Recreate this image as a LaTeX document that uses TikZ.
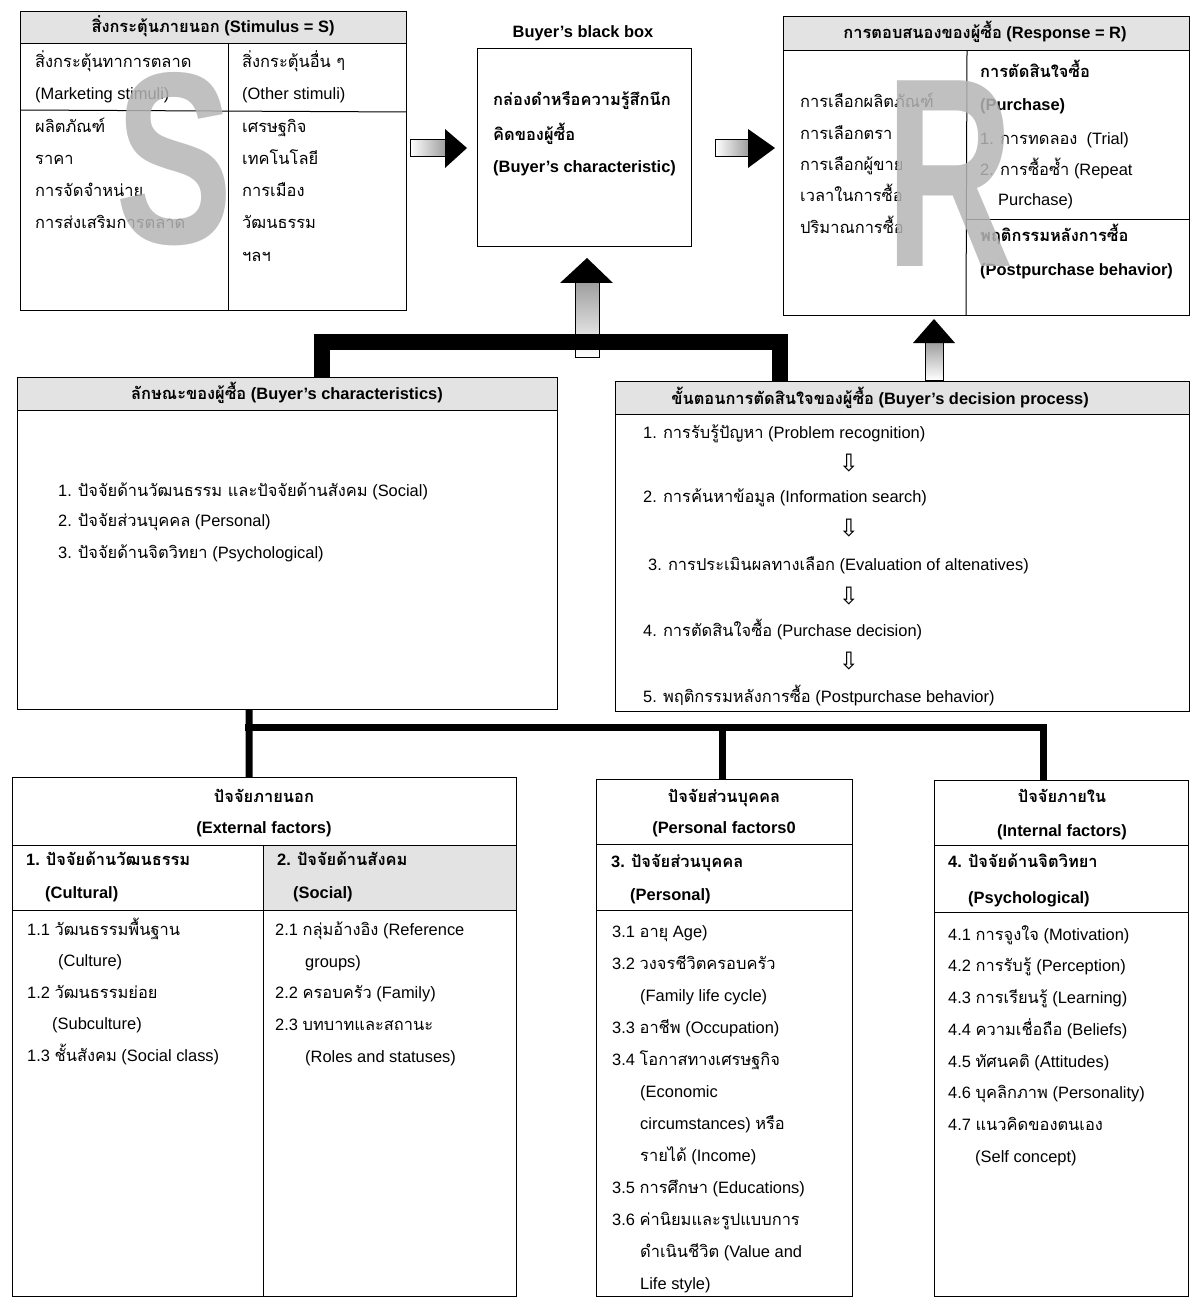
\documentclass[tikz,border=0pt]{standalone}
\usepackage{fontspec}
\setmainfont{Liberation Sans}
\newfontfamily\thaifont[Script=Thai]{Loma}
\newfontfamily\dejavu{DejaVu Sans}
\newcommand\tha[1]{{\thaifont #1}}
\newcommand\fs{\fontsize{16.5}{19}\selectfont}
\tikzset{
  boxd/.style={draw, line width=1bp, inner sep=0pt, outer sep=0pt, anchor=north west},
  hdr/.style={fill=gray!22},
  tl/.style={anchor=base west, inner sep=0pt, font=\fs},
  tlb/.style={anchor=base west, inner sep=0pt, font=\fs\bfseries},
  tcb/.style={anchor=base, inner sep=0pt, font=\fs\bfseries},
  rule/.style={line width=1bp},
  bigbar/.style={line width=16bp, line join=miter},
  smallbar/.style={line width=7bp, line join=miter},
  dn/.style={inner sep=0pt, font=\dejavu\fontsize{24}{24}\selectfont},
  bigletter/.style={anchor=base, inner sep=0pt, text=gray!58, text opacity=0.85},
}
\begin{document}
\begin{tikzpicture}[x=1bp,y=-1bp]
\useasboundingbox[fill=white] (0,0) rectangle (1191,1299);

% ================= S box =================
\fill[hdr] (20,12) rectangle (406,44);
\node[boxd, minimum width=386bp, minimum height=298bp] (sbox) at (20,12) {};
\draw[rule] (20,44) -- (406,44);
\draw[rule] (20,110) -- (406,112);
\draw[rule] (228,44) -- (228,310);
\node[tcb] (sh) at (213,33) {\tha{สิ่งกระตุ้นภายนอก} (Stimulus = S)};
\node[tl] (s1) at (35,68) {\tha{สิ่งกระตุ้นทาการตลาด}};
\node[tl] (s2) at (35,100) {(Marketing stimuli)};
\node[tl] (s3) at (35,133) {\tha{ผลิตภัณฑ์}};
\node[tl] (s4) at (35,165) {\tha{ราคา}};
\node[tl] (s5) at (35,197) {\tha{การจัดจำหน่าย}};
\node[tl] (s6) at (35,229) {\tha{การส่งเสริมการตลาด}};
\node[tl] (o1) at (242,68) {\tha{สิ่งกระตุ้นอื่น ๆ}};
\node[tl] (o2) at (242,100) {(Other stimuli)};
\node[tl] (o3) at (242,133) {\tha{เศรษฐกิจ}};
\node[tl] (o4) at (242,165) {\tha{เทคโนโลยี}};
\node[tl] (o5) at (242,197) {\tha{การเมือง}};
\node[tl] (o6) at (242,229) {\tha{วัฒนธรรม}};
\node[tl] (o7) at (242,262) {\tha{ฯลฯ}};
\node[bigletter, font=\fontsize{246}{246}\selectfont\bfseries, xscale=0.72] (bigS) at (174,244) {S};

% ================= Black box =================
\node[tcb] (bbt) at (583,38) {Buyer’s black box};
\node[boxd, minimum width=214bp, minimum height=197bp] (bb) at (477,49) {};
\node[tlb] (b1) at (493,106) {\tha{กล่องดำหรือความรู้สึกนึก}};
\node[tlb] (b2) at (493,141) {\tha{คิดของผู้ซื้อ}};
\node[tlb] (b3) at (493,173) {(Buyer’s characteristic)};

% ================= R box =================
\fill[hdr] (783,17) rectangle (1189,51);
\node[boxd, minimum width=406bp, minimum height=298bp] (rbox) at (783,17) {};
\draw[rule] (783,51) -- (1189,51);
\draw[rule] (967,51) -- (966,315);
\draw[rule] (966,220) -- (1189,220);
\node[tcb] (rh) at (985,39) {\tha{การตอบสนองของผู้ซื้อ} (Response = R)};
\node[tl] (r1) at (800,108) {\tha{การเลือกผลิตภัณฑ์}};
\node[tl] (r2) at (800,140) {\tha{การเลือกตรา}};
\node[tl] (r3) at (800,171) {\tha{การเลือกผู้ขาย}};
\node[tl] (r4) at (800,202) {\tha{เวลาในการซื้อ}};
\node[tl] (r5) at (800,234) {\tha{ปริมาณการซื้อ}};
\node[tlb] (p1) at (980,78) {\tha{การตัดสินใจซื้อ}};
\node[tlb] (p2) at (980,111) {(Purchase)};
\node[tl] (p3) at (980,145) {1. \tha{การทดลอง}\ \ (Trial)};
\node[tl] (p4) at (980,176) {2. \tha{การซื้อซ้ำ} (Repeat};
\node[tl] (p5) at (998,206) {Purchase)};
\node[tlb] (p6) at (980,242) {\tha{พฤติกรรมหลังการซื้อ}};
\node[tlb] (p7) at (980,276) {(Postpurchase behavior)};
\node[bigletter, font=\fontsize{271}{271}\selectfont\bfseries, xscale=0.66] (bigR) at (950,267) {R};

% ================= block arrows (top row) =================
\shade[left color=white, right color=gray!75] (410,140) rectangle (445,157);
\draw[rule] (445,140) -- (410,140) -- (410,157) -- (445,157);
\fill (445,129) -- (467,148) -- (445,168) -- cycle;
\shade[left color=white, right color=gray!75] (715,140) rectangle (748,157);
\draw[rule] (748,140) -- (715,140) -- (715,157) -- (748,157);
\fill (748,129) -- (775,148) -- (748,168) -- cycle;

% ================= Buyer's characteristics =================
\fill[hdr] (17,377) rectangle (557,410);
\node[boxd, minimum width=540bp, minimum height=332bp] (bc) at (17,377) {};
\draw[rule] (17,410) -- (557,410);
\node[tcb] (bch) at (287,399) {\tha{ลักษณะของผู้ซื้อ} (Buyer’s characteristics)};
\node[tl] (c1) at (58,496) {1. \tha{ปัจจัยด้านวัฒนธรรม และปัจจัยด้านสังคม} (Social)};
\node[tl] (c2) at (58,526) {2. \tha{ปัจจัยส่วนบุคคล} (Personal)};
\node[tl] (c3) at (58,558) {3. \tha{ปัจจัยด้านจิตวิทยา} (Psychological)};

% ================= Decision process =================
\fill[hdr] (615,381) rectangle (1189,414);
\node[boxd, minimum width=574bp, minimum height=330bp] (dp) at (615,381) {};
\draw[rule] (615,414) -- (1189,414);
\node[tcb] (dph) at (880,404) {\tha{ขั้นตอนการตัดสินใจของผู้ซื้อ} (Buyer’s decision process)};
\node[tl] (d1) at (643,438) {1. \tha{การรับรู้ปัญหา} (Problem recognition)};
\node[tl] (d2) at (643,502) {2. \tha{การค้นหาข้อมูล} (Information search)};
\node[tl] (d3) at (648,570) {3. \tha{การประเมินผลทางเลือก} (Evaluation of altenatives)};
\node[tl] (d4) at (643,636) {4. \tha{การตัดสินใจซื้อ} (Purchase decision)};
\node[tl] (d5) at (643,702) {5. \tha{พฤติกรรมหลังการซื้อ} (Postpurchase behavior)};
\node[dn] (a1) at (849,463) {⇩};
\node[dn] (a2) at (849,528) {⇩};
\node[dn] (a3) at (849,596) {⇩};
\node[dn] (a4) at (849,661) {⇩};

% ================= upward arrows and thick connector =================
\shade[top color=gray!75, bottom color=white] (575,283) rectangle (599,357);
\draw[rule] (575,283) -- (575,357) -- (599,357) -- (599,283);
\fill (560,283) -- (587,258) -- (613,283) -- cycle;
\draw[bigbar] ([xshift=305bp]bc.north west) -- ++(0,-35) -| ([xshift=165bp]dp.north west);

\shade[top color=gray!75, bottom color=white] (925,343) rectangle (943,380);
\draw[rule] (925,343) -- (925,380) -- (943,380) -- (943,343);
\fill (913,343) -- (934,319) -- (955,343) -- cycle;

% ================= Bottom boxes =================
% External
\fill[gray!22] (263,845) rectangle (516,910);
\node[boxd, minimum width=504bp, minimum height=519bp] (ext) at (12,777) {};
\draw[rule] (12,845) -- (516,845);
\draw[rule] (12,910) -- (516,910);
\draw[rule] (263,845) -- (263,1296);
\node[tcb] (e1) at (264,802) {\tha{ปัจจัยภายนอก}};
\node[tcb] (e2) at (264,833) {(External factors)};
\node[tlb] (e3) at (26,865) {1. \tha{ปัจจัยด้านวัฒนธรรม}};
\node[tlb] (e4) at (45,898) {(Cultural)};
\node[tlb] (e5) at (277,865) {2. \tha{ปัจจัยด้านสังคม}};
\node[tlb] (e6) at (293,898) {(Social)};
\node[tl] (e7) at (27,935) {1.1 \tha{วัฒนธรรมพื้นฐาน}};
\node[tl] (e8) at (58,966) {(Culture)};
\node[tl] (e9) at (27,998) {1.2 \tha{วัฒนธรรมย่อย}};
\node[tl] (e10) at (52,1029) {(Subculture)};
\node[tl] (e11) at (27,1061) {1.3 \tha{ชั้นสังคม} (Social class)};
\node[tl] (e12) at (275,935) {2.1 \tha{กลุ่มอ้างอิง} (Reference};
\node[tl] (e13) at (305,967) {groups)};
\node[tl] (e14) at (275,998) {2.2 \tha{ครอบครัว} (Family)};
\node[tl] (e15) at (275,1030) {2.3 \tha{บทบาทและสถานะ}};
\node[tl] (e16) at (305,1062) {(Roles and statuses)};

% Personal
\node[boxd, minimum width=256bp, minimum height=517bp] (pers) at (596,779) {};
\draw[rule] (596,844) -- (852,844);
\draw[rule] (596,910) -- (852,910);
\node[tcb] (f1) at (724,802) {\tha{ปัจจัยส่วนบุคคล}};
\node[tcb] (f2) at (724,833) {(Personal factors0};
\node[tlb] (f3) at (611,867) {3. \tha{ปัจจัยส่วนบุคคล}};
\node[tlb] (f4) at (630,900) {(Personal)};
\node[tl] (f5) at (612,937) {3.1 \tha{อายุ} Age)};
\node[tl] (f6) at (612,969) {3.2 \tha{วงจรชีวิตครอบครัว}};
\node[tl] (f7) at (640,1001) {(Family life cycle)};
\node[tl] (f8) at (612,1033) {3.3 \tha{อาชีพ} (Occupation)};
\node[tl] (f9) at (612,1065) {3.4 \tha{โอกาสทางเศรษฐกิจ}};
\node[tl] (f10) at (640,1097) {(Economic};
\node[tl] (f11) at (640,1129) {circumstances) \tha{หรือ}};
\node[tl] (f12) at (640,1161) {\tha{รายได้} (Income)};
\node[tl] (f13) at (612,1193) {3.5 \tha{การศึกษา} (Educations)};
\node[tl] (f14) at (612,1225) {3.6 \tha{ค่านิยมและรูปแบบการ}};
\node[tl] (f15) at (640,1257) {\tha{ดำเนินชีวิต} (Value and};
\node[tl] (f16) at (640,1289) {Life style)};

% Internal
\node[boxd, minimum width=254bp, minimum height=516bp] (intl) at (934,780) {};
\draw[rule] (934,845) -- (1188,845);
\draw[rule] (934,912) -- (1188,912);
\node[tcb] (g1) at (1062,802) {\tha{ปัจจัยภายใน}};
\node[tcb] (g2) at (1062,836) {(Internal factors)};
\node[tlb] (g3) at (948,867) {4. \tha{ปัจจัยด้านจิตวิทยา}};
\node[tlb] (g4) at (968,903) {(Psychological)};
\node[tl] (g5) at (948,940) {4.1 \tha{การจูงใจ} (Motivation)};
\node[tl] (g6) at (948,971) {4.2 \tha{การรับรู้} (Perception)};
\node[tl] (g7) at (948,1003) {4.3 \tha{การเรียนรู้} (Learning)};
\node[tl] (g8) at (948,1035) {4.4 \tha{ความเชื่อถือ} (Beliefs)};
\node[tl] (g9) at (948,1067) {4.5 \tha{ทัศนคติ} (Attitudes)};
\node[tl] (g10) at (948,1098) {4.6 \tha{บุคลิกภาพ} (Personality)};
\node[tl] (g11) at (948,1130) {4.7 \tha{แนวคิดของตนเอง}};
\node[tl] (g12) at (975,1162) {(Self concept)};

% ================= lower connector =================
\coordinate (jn) at (249,727);
\draw[smallbar] ([xshift=232bp]bc.south west) -- ([xshift=237bp]ext.north west);
\draw[smallbar] ([xshift=-4bp]jn) -- ++(798,0);
\draw[smallbar] (jn) -| ([xshift=126bp]pers.north west);
\draw[smallbar] (jn) -| ([xshift=109bp]intl.north west);
\end{tikzpicture}
\end{document}
